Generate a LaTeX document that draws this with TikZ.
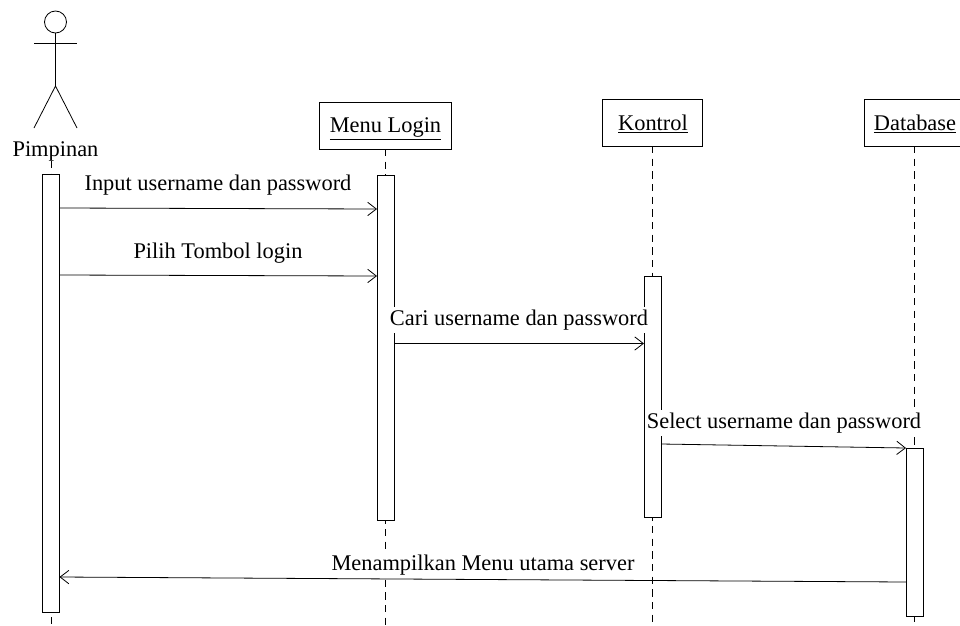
\documentclass[tikz,border=0pt]{standalone}
\usepackage{fontspec}
\setmainfont{Liberation Serif}
\usetikzlibrary{arrows.meta}
\tikzset{
  x=0.75pt,y=-0.75pt,
  every node/.style={font=\fontsize{16.8}{19}\selectfont,inner sep=0pt,outer sep=0pt},
  objbox/.style={draw,line width=0.6pt,fill=white,minimum height=35.25pt,anchor=center},
  activation/.style={draw,line width=0.6pt,fill=white,minimum width=12.75pt,inner sep=0pt},
  lifeline/.style={line width=0.6pt,dash pattern=on 5.5pt off 4pt},
  msg/.style={line width=0.6pt,-{Straight Barb[length=6.5pt,width=10pt,line width=0.6pt]}},
  msglabel/.style={fill=white,inner xsep=1pt,inner ysep=2pt},
  limb/.style={line width=0.6pt}
}
\begin{document}
\begin{tikzpicture}
\clip (0,0) rectangle (960,625);
% object boxes
\node[objbox,minimum width=99.4pt] (menu) at (385.5,125.5) {};
\node[objbox,minimum width=75pt] (kontrol) at (652,122.5) {};
\node[objbox,minimum width=75pt] (db) at (914,122.5) {};
\node (menuL) at (385.5,129) {\underline{Menu Login}};
\node (kontrolL) at (653,124) {\underline{Kontrol}};
\node (dbL) at (915,124) {\underline{Database}};
% actor
\node[draw,circle,line width=0.6pt,minimum size=16.5pt] (head) at (55.5,22) {};
\coordinate (armL) at (34,43);
\coordinate (armR) at (77,43);
\coordinate (hip) at (55.5,86);
\coordinate (legL) at (34,128);
\coordinate (legR) at (77,128);
\draw[limb] (head.south) -- (hip);
\draw[limb] (armL) -- (armR);
\draw[limb] (legL) -- (hip) -- (legR);
\node (pimpinan) at (55.5,151) {Pimpinan};
% lifeline ends
\coordinate (pEnd) at (51,625);
\coordinate (pStart) at (51,161);
\coordinate (mEnd) at (385,625);
\coordinate (kEnd) at (652,625);
\coordinate (dEnd) at (914,625);
\coordinate (mStart) at (385,149);
\coordinate (kStart) at (652,146);
\coordinate (dStart) at (914,146);
\draw[lifeline] (pStart) -- (pEnd);
\draw[lifeline] (mStart) -- (mEnd);
\draw[lifeline] (kStart) -- (kEnd);
\draw[lifeline] (dStart) -- (dEnd);
% activations
\node[activation,minimum height=328.5pt] (ap) at (51,393) {};
\node[activation,minimum height=258.75pt] (am) at (385.5,347.5) {};
\node[activation,minimum height=180.75pt] (ak) at (652.5,396.5) {};
\node[activation,minimum height=126pt] (ad) at (914.5,532) {};
% message end points on activation bars
\coordinate (m1a) at (ap.east |- 0,208);
\coordinate (m1b) at (am.west |- 0,209);
\coordinate (m2a) at (ap.east |- 0,275);
\coordinate (m2b) at (am.west |- 0,276);
\coordinate (m3a) at (am.east |- 0,343.5);
\coordinate (m3b) at (ak.west |- 0,343.5);
\coordinate (m4a) at (ak.east |- 0,444);
\coordinate (m4b) at (ad.west |- 0,448);
\coordinate (m5a) at (ad.west |- 0,582);
\coordinate (m5b) at (ap.east |- 0,577);
\draw[msg] (m1a) -- (m1b);
\draw[msg] (m2a) -- (m2b);
\draw[msg] (m3a) -- (m3b);
\draw[msg] (m4a) -- (m4b);
\draw[msg] (m5a) -- (m5b);
% labels
\node[msglabel] (l1) at (218,185) {Input username dan password};
\node[msglabel] (l2) at (218,253) {Pilih Tombol login};
\node[msglabel] (l3) at (519,320) {Cari username dan password};
\node[msglabel] (l4) at (784,423) {Select username dan password};
\node[msglabel] (l5) at (483,565) {Menampilkan Menu utama server};
\end{tikzpicture}
\end{document}
